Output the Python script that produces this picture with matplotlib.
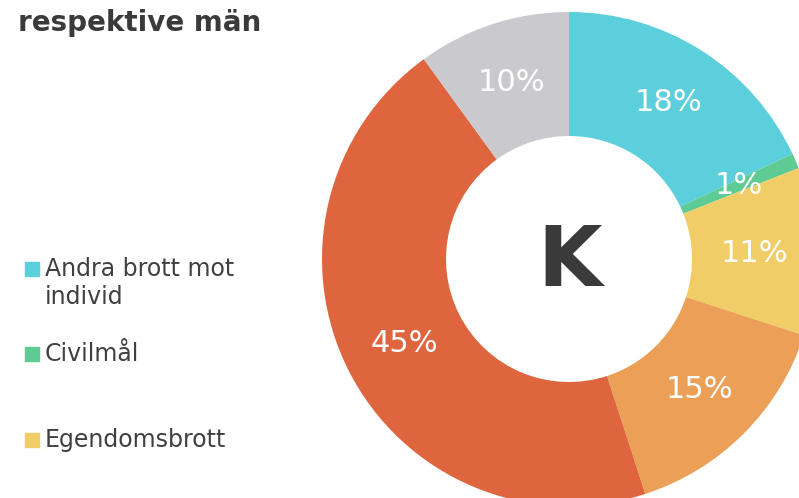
import matplotlib.pyplot as plt
from matplotlib.patches import Rectangle

# slice values (%) clockwise from the top
values = [18, 1, 11, 15, 45, 10]
colors = ['#5ccfdd', '#5ecb95', '#f0cd66', '#eca057', '#de653d', '#cacace']
legend_labels = ['Andra brott mot\nindivid', 'Civilmål', 'Egendomsbrott']
title = 'respektive män'
center_label = 'K'

W, H = 799, 498
fig = plt.figure(figsize=(W / 100, H / 100), dpi=100)
ax = fig.add_axes([0, 0, 1, 1])

cx, cy, R, ring = 569, H - 259, 247, 124
wedges, texts, autotexts = ax.pie(
    values, colors=colors, startangle=90, counterclock=False,
    center=(cx, cy), radius=R, autopct='%d%%', pctdistance=0.75,
    wedgeprops=dict(width=ring, linewidth=0),
    textprops=dict(color='white', fontsize=22))
ax.set_xlim(0, W)
ax.set_ylim(0, H)
ax.set_aspect('auto')
ax.axis('off')

ax.text(cx + 1, cy - 3, center_label, ha='center', va='center',
        fontsize=60, fontweight='bold', color='#3a3a3a')

fig.text(18 / W, 1 - 23 / H, title, ha='left', va='center',
         fontsize=20, fontweight='bold', color='#3a3a3a')

# legend (only the upper part is visible in the crop)
leg_y = [283, 354, 440]
for lab, col, y in zip(legend_labels, colors[:3], leg_y):
    n = lab.count('\n')
    sq_y = y - n * 14.5
    ax.add_patch(Rectangle((25, H - sq_y - 7), 14, 14, color=col, clip_on=False))
    ax.text(45, H - y, lab, ha='left', va='center', fontsize=17,
            color='#404040', linespacing=1.2)

fig.savefig('out.png', dpi=100)
